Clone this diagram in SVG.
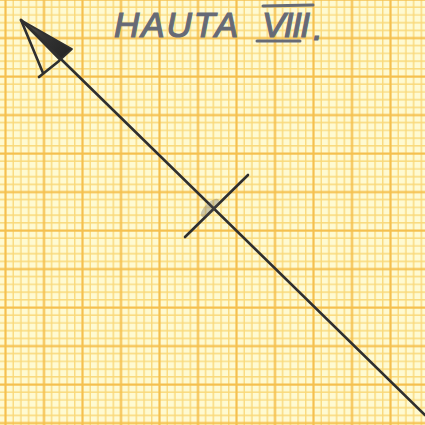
<svg xmlns="http://www.w3.org/2000/svg" width="425" height="425" viewBox="0 0 425 425">
<defs>
<style>
.minor{stroke:#f9d878;stroke-width:1.4}
.major{stroke:#f5c04e;stroke-width:2.2}
.ink{stroke:#2f2f2f;stroke-width:2.6;fill:none;stroke-linecap:round;stroke-linejoin:round}
.pencil{font-family:"Liberation Sans",Arial,sans-serif;font-style:italic;font-size:35px;fill:#666a76;stroke:#666a76;stroke-width:1.2}
.pline{stroke:#666a76;stroke-width:3;stroke-linecap:round}
</style>
<pattern id="grid" x="4" y="-2" width="38.5" height="38.5" patternUnits="userSpaceOnUse">
<g class="minor">
<line x1="9.2" y1="0" x2="9.2" y2="38.5"/><line x1="16.9" y1="0" x2="16.9" y2="38.5"/><line x1="24.6" y1="0" x2="24.6" y2="38.5"/><line x1="32.3" y1="0" x2="32.3" y2="38.5"/>
<line y1="9.2" x1="0" y2="9.2" x2="38.5"/><line y1="16.9" x1="0" y2="16.9" x2="38.5"/><line y1="24.6" x1="0" y2="24.6" x2="38.5"/><line y1="32.3" x1="0" y2="32.3" x2="38.5"/>
</g>
<g class="major">
<line x1="1.5" y1="0" x2="1.5" y2="38.5"/><line x1="0" y1="1.5" x2="38.5" y2="1.5"/>
</g>
</pattern>
<linearGradient id="headfill" x1="20" y1="20" x2="66" y2="56" gradientUnits="userSpaceOnUse">
<stop offset="0" stop-color="#555"/>
<stop offset="0.5" stop-color="#333"/>
<stop offset="1" stop-color="#262626"/>
</linearGradient>
</defs>
<rect width="425" height="425" fill="#fefad2"/>
<rect width="425" height="425" fill="url(#grid)"/>
<g id="title">
<text class="pencil" x="114" y="37" textLength="124" lengthAdjust="spacing">HAUTA</text>
<text class="pencil" x="262" y="37" textLength="48" lengthAdjust="spacing">VIII</text>
<line class="pline" x1="263" y1="6" x2="313" y2="5"/>
<line class="pline" x1="257" y1="41" x2="300" y2="41"/>
<text class="pencil" x="313" y="40">.</text>
</g>
<g id="arrow">
<path d="M21 20 L72 49 L60 60 Z" fill="url(#headfill)" stroke="#2f2f2f" stroke-width="1.8" stroke-linejoin="round"/>
<path class="ink" d="M21 20 L425 415"/>
<path class="ink" d="M21 20 L43 73"/>
<path class="ink" d="M39 77 L59 61"/>
<path class="ink" d="M185 237 L248 175"/>
<ellipse cx="210" cy="208" rx="12" ry="5" transform="rotate(-45 210 208)" fill="#555" opacity="0.3"/>
</g>
</svg>
